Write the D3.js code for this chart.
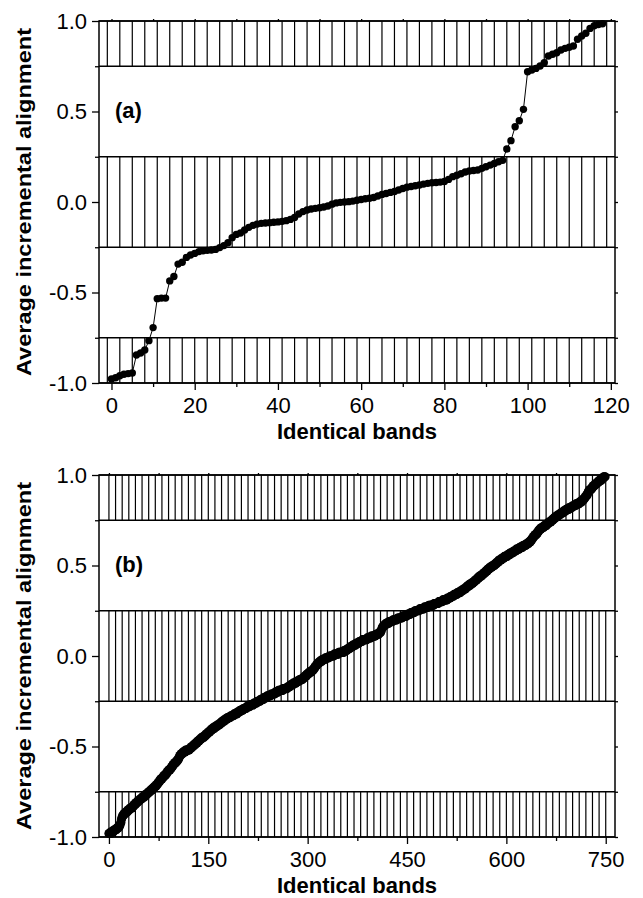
<!DOCTYPE html>
<html>
<head>
<meta charset="utf-8">
<script src="https://cdnjs.cloudflare.com/ajax/libs/d3/7.8.5/d3.min.js"></script>
<style>
  body { margin: 0; background: #fff; }
  svg text { font-family: "Liberation Sans", Arial, Helvetica, sans-serif; fill: #000; }
</style>
</head>
<body>
<div id="graph"></div>
<script>
// (a) average incremental alignment, sorted, one value per identical band (119 bands)
var alignA = [
  -0.978,-0.971,-0.960,-0.952,-0.948,-0.945,-0.845,-0.834,-0.818,-0.766,
  -0.694,-0.534,-0.531,-0.531,-0.436,-0.412,-0.343,-0.333,-0.306,-0.293,
  -0.284,-0.274,-0.269,-0.267,-0.265,-0.262,-0.252,-0.241,-0.225,-0.197,
  -0.179,-0.171,-0.155,-0.140,-0.129,-0.122,-0.118,-0.116,-0.114,-0.112,
  -0.110,-0.107,-0.103,-0.096,-0.085,-0.066,-0.053,-0.044,-0.039,-0.035,
  -0.032,-0.028,-0.022,-0.012,-0.005,-0.002,0.000,0.002,0.005,0.010,
  0.014,0.018,0.021,0.025,0.033,0.042,0.047,0.053,0.058,0.066,
  0.075,0.082,0.086,0.090,0.094,0.099,0.103,0.106,0.108,0.110,
  0.113,0.125,0.140,0.148,0.156,0.166,0.171,0.174,0.177,0.186,
  0.195,0.204,0.213,0.222,0.230,0.293,0.339,0.416,0.449,0.512,
  0.720,0.729,0.738,0.751,0.770,0.807,0.816,0.825,0.840,0.849,
  0.855,0.862,0.899,0.917,0.932,0.959,0.974,0.981,0.985
];

// (b) same quantity for 750 bands
var alignB = [
  -0.98,-0.98,-0.98,-0.98,-0.97,-0.97,-0.97,-0.97,-0.96,-0.96,
  -0.96,-0.96,-0.95,-0.95,-0.95,-0.94,-0.94,-0.93,-0.92,-0.90,
  -0.89,-0.88,-0.88,-0.87,-0.87,-0.87,-0.86,-0.86,-0.86,-0.85,
  -0.85,-0.85,-0.84,-0.84,-0.84,-0.84,-0.83,-0.83,-0.82,-0.82,
  -0.82,-0.81,-0.81,-0.81,-0.80,-0.80,-0.80,-0.79,-0.79,-0.79,
  -0.78,-0.78,-0.78,-0.78,-0.77,-0.77,-0.77,-0.76,-0.76,-0.76,
  -0.75,-0.75,-0.75,-0.74,-0.74,-0.74,-0.73,-0.73,-0.73,-0.72,
  -0.72,-0.72,-0.71,-0.71,-0.70,-0.70,-0.69,-0.69,-0.68,-0.68,
  -0.68,-0.67,-0.67,-0.66,-0.66,-0.66,-0.65,-0.65,-0.64,-0.64,
  -0.63,-0.63,-0.63,-0.62,-0.62,-0.61,-0.61,-0.60,-0.60,-0.59,
  -0.59,-0.59,-0.58,-0.58,-0.57,-0.57,-0.56,-0.55,-0.55,-0.54,
  -0.54,-0.54,-0.53,-0.53,-0.53,-0.53,-0.52,-0.52,-0.52,-0.52,
  -0.52,-0.52,-0.51,-0.51,-0.51,-0.50,-0.50,-0.50,-0.49,-0.49,
  -0.49,-0.48,-0.48,-0.48,-0.47,-0.47,-0.47,-0.46,-0.46,-0.46,
  -0.45,-0.45,-0.45,-0.45,-0.44,-0.44,-0.44,-0.43,-0.43,-0.43,
  -0.42,-0.42,-0.42,-0.41,-0.41,-0.41,-0.40,-0.40,-0.40,-0.40,
  -0.39,-0.39,-0.39,-0.39,-0.38,-0.38,-0.38,-0.38,-0.37,-0.37,
  -0.37,-0.36,-0.36,-0.36,-0.36,-0.35,-0.35,-0.35,-0.35,-0.34,
  -0.34,-0.34,-0.34,-0.34,-0.33,-0.33,-0.33,-0.33,-0.33,-0.32,
  -0.32,-0.32,-0.32,-0.32,-0.31,-0.31,-0.31,-0.31,-0.30,-0.30,
  -0.30,-0.30,-0.30,-0.29,-0.29,-0.29,-0.29,-0.29,-0.28,-0.28,
  -0.28,-0.28,-0.28,-0.27,-0.27,-0.27,-0.27,-0.27,-0.27,-0.26,
  -0.26,-0.26,-0.26,-0.26,-0.25,-0.25,-0.25,-0.25,-0.25,-0.24,
  -0.24,-0.24,-0.24,-0.24,-0.23,-0.23,-0.23,-0.23,-0.23,-0.22,
  -0.22,-0.22,-0.22,-0.22,-0.22,-0.21,-0.21,-0.21,-0.21,-0.21,
  -0.21,-0.20,-0.20,-0.20,-0.20,-0.20,-0.19,-0.19,-0.19,-0.19,
  -0.19,-0.19,-0.19,-0.18,-0.18,-0.18,-0.18,-0.18,-0.18,-0.18,
  -0.17,-0.17,-0.17,-0.17,-0.16,-0.16,-0.16,-0.16,-0.15,-0.15,
  -0.15,-0.15,-0.15,-0.14,-0.14,-0.14,-0.14,-0.14,-0.13,-0.13,
  -0.13,-0.13,-0.13,-0.12,-0.12,-0.12,-0.11,-0.11,-0.11,-0.10,
  -0.10,-0.10,-0.09,-0.09,-0.09,-0.09,-0.08,-0.08,-0.08,-0.07,
  -0.07,-0.06,-0.06,-0.05,-0.05,-0.04,-0.04,-0.04,-0.03,-0.03,
  -0.03,-0.03,-0.02,-0.02,-0.02,-0.02,-0.02,-0.01,-0.01,-0.01,
  -0.01,-0.01,-0.01,0.00,0.00,0.00,0.00,0.00,0.00,0.00,
  0.01,0.01,0.01,0.01,0.01,0.01,0.01,0.02,0.02,0.02,
  0.02,0.02,0.02,0.02,0.02,0.03,0.03,0.03,0.03,0.03,
  0.04,0.04,0.04,0.04,0.05,0.05,0.05,0.05,0.06,0.06,
  0.06,0.06,0.06,0.07,0.07,0.07,0.07,0.07,0.08,0.08,
  0.08,0.08,0.08,0.09,0.09,0.09,0.09,0.09,0.09,0.09,
  0.10,0.10,0.10,0.10,0.10,0.10,0.11,0.11,0.11,0.11,
  0.11,0.11,0.11,0.12,0.12,0.12,0.12,0.12,0.13,0.13,
  0.13,0.14,0.15,0.16,0.16,0.17,0.17,0.17,0.18,0.18,
  0.18,0.18,0.18,0.19,0.19,0.19,0.19,0.19,0.19,0.20,
  0.20,0.20,0.20,0.20,0.20,0.20,0.21,0.21,0.21,0.21,
  0.21,0.21,0.21,0.22,0.22,0.22,0.22,0.22,0.22,0.22,
  0.23,0.23,0.23,0.23,0.23,0.23,0.24,0.24,0.24,0.24,
  0.24,0.24,0.25,0.25,0.25,0.25,0.25,0.25,0.25,0.26,
  0.26,0.26,0.26,0.26,0.26,0.26,0.27,0.27,0.27,0.27,
  0.27,0.27,0.27,0.28,0.28,0.28,0.28,0.28,0.28,0.28,
  0.28,0.29,0.29,0.29,0.29,0.29,0.29,0.29,0.30,0.30,
  0.30,0.30,0.30,0.30,0.31,0.31,0.31,0.31,0.31,0.31,
  0.31,0.32,0.32,0.32,0.32,0.32,0.33,0.33,0.33,0.33,
  0.33,0.34,0.34,0.34,0.34,0.34,0.35,0.35,0.35,0.35,
  0.35,0.36,0.36,0.36,0.36,0.37,0.37,0.37,0.37,0.38,
  0.38,0.38,0.39,0.39,0.39,0.39,0.40,0.40,0.40,0.40,
  0.41,0.41,0.41,0.42,0.42,0.42,0.43,0.43,0.43,0.44,
  0.44,0.44,0.44,0.45,0.45,0.45,0.46,0.46,0.46,0.47,
  0.47,0.47,0.48,0.48,0.48,0.49,0.49,0.49,0.49,0.50,
  0.50,0.50,0.50,0.51,0.51,0.51,0.52,0.52,0.52,0.53,
  0.53,0.53,0.53,0.54,0.54,0.54,0.54,0.55,0.55,0.55,
  0.55,0.55,0.56,0.56,0.56,0.56,0.57,0.57,0.57,0.57,
  0.57,0.58,0.58,0.58,0.58,0.59,0.59,0.59,0.59,0.59,
  0.60,0.60,0.60,0.60,0.60,0.61,0.61,0.61,0.61,0.61,
  0.62,0.62,0.62,0.62,0.63,0.63,0.63,0.64,0.64,0.65,
  0.65,0.66,0.66,0.67,0.67,0.67,0.68,0.68,0.69,0.69,
  0.70,0.70,0.70,0.71,0.71,0.71,0.71,0.72,0.72,0.72,
  0.72,0.73,0.73,0.73,0.74,0.74,0.74,0.74,0.75,0.75,
  0.75,0.76,0.76,0.76,0.77,0.77,0.77,0.77,0.78,0.78,
  0.78,0.78,0.79,0.79,0.79,0.79,0.80,0.80,0.80,0.80,
  0.81,0.81,0.81,0.81,0.81,0.82,0.82,0.82,0.82,0.82,
  0.83,0.83,0.83,0.83,0.83,0.84,0.84,0.84,0.84,0.84,
  0.85,0.85,0.85,0.85,0.86,0.86,0.86,0.87,0.87,0.88,
  0.88,0.89,0.89,0.90,0.91,0.91,0.92,0.92,0.92,0.93,
  0.93,0.94,0.94,0.94,0.95,0.95,0.95,0.96,0.96,0.96,
  0.97,0.97,0.97,0.97,0.98,0.98,0.98,0.99,0.99,0.99
];

// tick labels
var yTicks = [-1.0, -0.5, 0.0, 0.5, 1.0];
var yMinorTicks = [-0.75, -0.25, 0.25, 0.75];
var xTicksA = [0, 20, 40, 60, 80, 100, 120];
var xMinorTicksA = [10, 30, 50, 70, 90, 110];
var xTicksB = [0, 150, 300, 450, 600, 750];
var xMinorTicksB = [75, 225, 375, 525, 675];

// hatched alignment bands (lower, upper)
var hatchBands = [[0.75, 1.0], [-0.25, 0.25], [-1.0, -0.75]];

var xTitle = "Identical bands";
var yTitle = "Average incremental alignment";

var W = 643, H = 898;
var w = 516, h = 362;

var svg = d3.select("#graph")
    .append("svg")
    .attr("width", W)
    .attr("height", H);

function tickFmt(d) { return d.toFixed(1); }

function drawPanel(cfg) {
    var g = svg.append("g")
        .attr("transform", "translate(" + cfg.left + "," + cfg.top + ")");

    var x = d3.scaleLinear().domain(cfg.xDomain).range([0, w]);
    var y = d3.scaleLinear().domain([-1, 1]).range([h, 0]);

    // vertical hatching inside the bands
    hatchBands.forEach(function(b) {
        g.append("g")
            .selectAll("line")
            .data(cfg.hatch)
            .enter()
            .append("line")
            .attr("x1", function(d) { return x(d); })
            .attr("x2", function(d) { return x(d); })
            .attr("y1", y(b[1]))
            .attr("y2", y(b[0]))
            .attr("stroke", "#000")
            .attr("stroke-width", 1.2);
        g.selectAll(null)
            .data(b)
            .enter()
            .append("line")
            .attr("x1", 0)
            .attr("x2", w)
            .attr("y1", function(d) { return y(d); })
            .attr("y2", function(d) { return y(d); })
            .attr("stroke", "#000")
            .attr("stroke-width", 1.3);
    });

    // axes
    var left = g.append("g")
        .call(d3.axisLeft(y).tickValues(yTicks).tickSize(7).tickPadding(5).tickFormat(tickFmt));
    g.append("g")
        .call(d3.axisLeft(y).tickValues(yMinorTicks).tickSize(4).tickFormat(""));
    g.append("g")
        .attr("transform", "translate(" + w + ",0)")
        .call(d3.axisRight(y).tickValues(yTicks.concat(yMinorTicks)).tickSize(3).tickFormat(""));

    var bottom = g.append("g")
        .attr("transform", "translate(0," + h + ")")
        .call(d3.axisBottom(x).tickValues(cfg.xTicks).tickSize(7).tickPadding(7).tickFormat(d3.format("d")));
    g.append("g")
        .attr("transform", "translate(0," + h + ")")
        .call(d3.axisBottom(x).tickValues(cfg.xMinor).tickSize(4).tickFormat(""));
    g.append("g")
        .call(d3.axisTop(x).tickValues(cfg.xTicks.concat(cfg.xMinor)).tickSize(2).tickFormat(""));

    g.selectAll(".domain").remove();
    g.selectAll(".tick line").attr("stroke", "#000").attr("stroke-width", 1.3);
    [left, bottom].forEach(function(a) {
        a.attr("font-family", null)
         .attr("font-size", 22)
         .selectAll("text").attr("fill", "#000");
    });

    // frame
    g.append("rect")
        .attr("width", w)
        .attr("height", h)
        .attr("fill", "none")
        .attr("stroke", "#000")
        .attr("stroke-width", 1.5);

    // the sorted curve
    var line = d3.line()
        .x(function(d, i) { return x(i); })
        .y(function(d) { return y(d); });
    g.append("path")
        .datum(cfg.data)
        .attr("d", line)
        .attr("fill", "none")
        .attr("stroke", "#000")
        .attr("stroke-width", 1);
    g.append("g")
        .selectAll("circle")
        .data(cfg.data)
        .enter()
        .append("circle")
        .attr("cx", function(d, i) { return x(i); })
        .attr("cy", function(d) { return y(d); })
        .attr("r", cfg.r)
        .attr("fill", "#000");

    // panel label and titles
    g.append("text")
        .attr("x", 16)
        .attr("y", y(0.5) + 6)
        .attr("font-size", 22)
        .attr("font-weight", "bold")
        .text(cfg.label);
    g.append("text")
        .attr("x", w / 2)
        .attr("y", h + 56)
        .attr("text-anchor", "middle")
        .attr("font-size", 22)
        .attr("font-weight", "bold")
        .text(xTitle);
    g.append("text")
        .attr("transform", "translate(" + (31 - cfg.left) + "," + (h / 2) + ") rotate(-90)")
        .attr("text-anchor", "middle")
        .attr("font-size", 21)
        .attr("font-weight", "bold")
        .attr("textLength", 348)
        .attr("lengthAdjust", "spacingAndGlyphs")
        .text(yTitle);
}

drawPanel({
    left: 99, top: 21,
    data: alignA,
    xDomain: [-3, 121],
    xTicks: xTicksA, xMinor: xMinorTicksA,
    hatch: d3.range(-1, 120, 3),
    r: 3.7,
    label: "(a)"
});

drawPanel({
    left: 99, top: 475,
    data: alignB,
    xDomain: [-15, 764],
    xTicks: xTicksB, xMinor: xMinorTicksB,
    hatch: d3.range(0, 751, 10),
    r: 4.6,
    label: "(b)"
});
</script>
</body>
</html>
